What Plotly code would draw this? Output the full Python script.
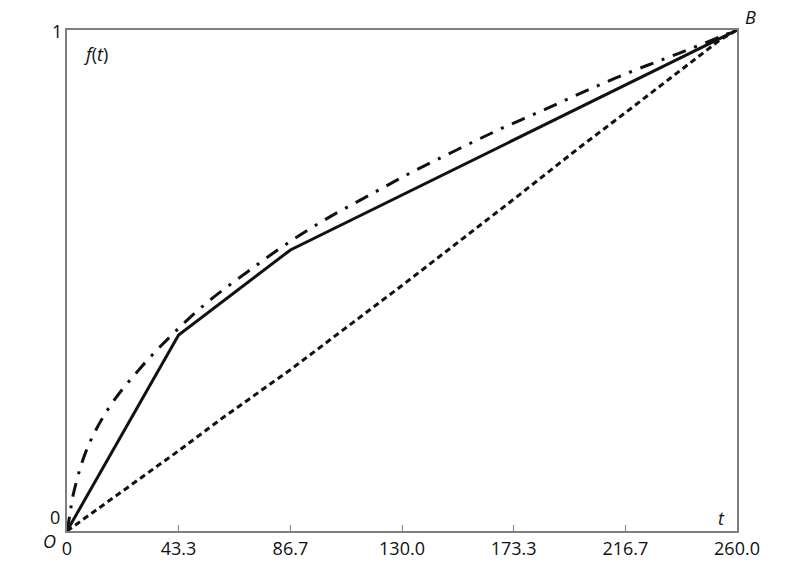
import plotly.graph_objects as go

# Data
solid_t = [0, 43.3, 86.7, 260.0]
solid_f = [0, 0.391, 0.561, 1.0]

dashdot_t = [0, 1.2, 2.2, 7.6, 16.4, 28.1, 41.0, 54.8, 69.7, 85.2, 101.0, 117.6, 134.1, 151.0,
             168.0, 184.8, 202.0, 219.5, 237.2, 260.0]
dashdot_f = [0, 0.035, 0.068, 0.162, 0.247, 0.323, 0.393, 0.458, 0.516, 0.573, 0.624, 0.671, 0.717,
             0.760, 0.802, 0.840, 0.880, 0.918, 0.953, 1.0]

dotted_t = [0, 43.3, 59.4, 86.7, 130.0, 173.3, 199.0, 216.7, 253.4, 260.0]
dotted_f = [0, 0.160, 0.222, 0.322, 0.490, 0.662, 0.766, 0.835, 0.980, 1.0]

x_ticks = [0, 43.3, 86.7, 130.0, 173.3, 216.7, 260.0]
x_tick_text = ["0", "43.3", "86.7", "130.0", "173.3", "216.7", "260.0"]

LINE = "#111111"
FRAME = "#7f7f7f"
FONT = "Open Sans"
FS = 18

fig = go.Figure()
fig.add_trace(go.Scatter(x=dotted_t, y=dotted_f, mode="lines",
                         line=dict(color=LINE, width=3, dash="6px,4px"), cliponaxis=False))
fig.add_trace(go.Scatter(x=dashdot_t, y=dashdot_f, mode="lines", line_shape="spline",
                         line=dict(color=LINE, width=3, dash="14px,9px,3px,9px"), cliponaxis=False))
fig.add_trace(go.Scatter(x=solid_t, y=solid_f, mode="lines",
                         line=dict(color=LINE, width=3), cliponaxis=False))

fig.update_layout(
    width=812, height=575,
    margin=dict(l=67, r=75, t=30, b=44),
    paper_bgcolor="white", plot_bgcolor="white",
    showlegend=False,
    font=dict(family=FONT, size=FS, color="#111111"),
    xaxis=dict(range=[0, 260], tickvals=x_ticks, ticktext=x_tick_text,
               showgrid=False, zeroline=False, showline=True, linecolor=FRAME, linewidth=2,
               mirror=True, ticks="inside", ticklen=6, tickcolor=FRAME, tickwidth=1,
               tickfont=dict(family=FONT, size=FS, color="#111111")),
    yaxis=dict(range=[0, 1], showticklabels=False, showgrid=False, zeroline=False,
               showline=True, linecolor=FRAME, linewidth=2, mirror=True, ticks=""),
)

ann = [
    dict(x=55, y=517, text="0"),
    dict(x=57, y=31, text="1"),
    dict(x=49, y=541, text="<i>O</i>"),
    dict(x=750, y=17, text="<i>B</i>"),
    dict(x=95, y=54, text="<i>f</i>(<i>t</i>)"),
    dict(x=721, y=518, text="<i>t</i>"),
]
plot_l, plot_r, plot_t, plot_b = 67, 737, 30, 531
for a in ann:
    px = (a["x"] - plot_l) / (plot_r - plot_l)
    py = (plot_b - a["y"]) / (plot_b - plot_t)
    fig.add_annotation(x=px, y=py, xref="paper", yref="paper",
                       text=a["text"], showarrow=False, xanchor="center", yanchor="middle",
                       font=dict(family=FONT, size=FS, color="#111111"))

fig.write_html("out.html", config={"displayModeBar": False},
               post_script="document.body.style.margin='0';")
